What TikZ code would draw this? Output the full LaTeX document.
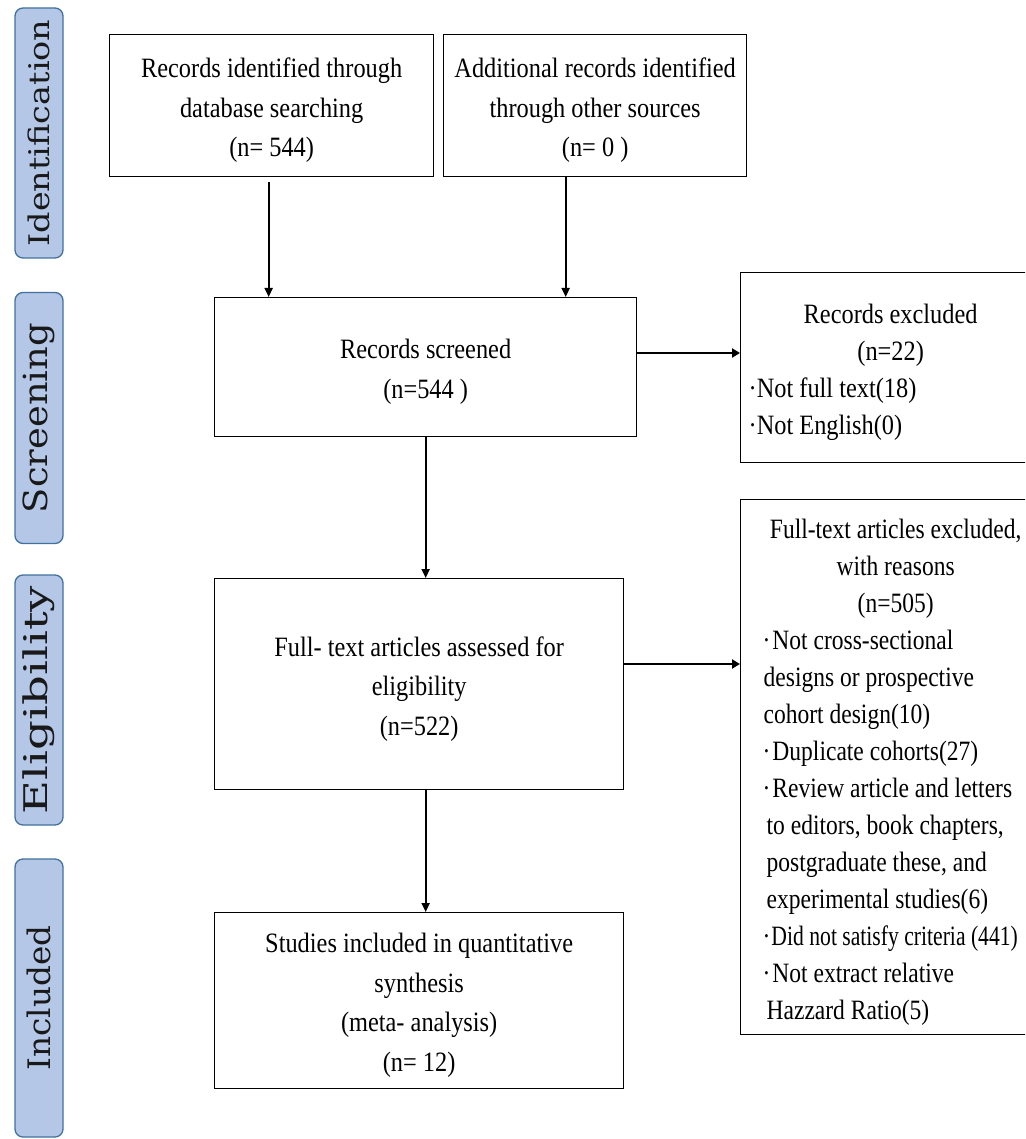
\documentclass[tikz,border=0pt]{standalone}
\usepackage{fontspec}
\usetikzlibrary{arrows.meta,calc}
\newfontfamily\boxfont[FakeStretch=0.87]{Liberation Serif}
\newfontfamily\boxfontn[FakeStretch=0.84]{Liberation Serif}
\newfontfamily\sidefont{DejaVu Serif}
\definecolor{sidefill}{HTML}{B4C7E7}
\definecolor{sidedraw}{HTML}{41719C}
\newcommand{\toppad}{\rule{0pt}{29pt}}
\begin{document}
\begin{tikzpicture}[x=1pt,y=-1pt,
  side/.style={draw=sidedraw, fill=sidefill, line width=1.3pt, rounded corners=8pt, inner sep=0pt, minimum height=48pt, rotate=90, text=black!90, font=\sidefont},
  box/.style={draw=black, line width=1.3pt, inner sep=0pt, anchor=north west, align=center, font=\boxfont\fontsize{28}{39.5}\selectfont},
  xbox/.style={draw=black, line width=1.3pt, inner ysep=0pt, anchor=north west, align=left, font=\boxfont\fontsize{28}{37}\selectfont},
  varr/.style={line width=1.9pt, -{Triangle[length=9pt,width=8pt]}},
  harr/.style={line width=2.6pt, -{Triangle[length=8pt,width=9pt]}}
]
\useasboundingbox (0,0) rectangle (1025,1139);
\clip (0,0) rectangle (1025,1139);

% side labels
\node[side, minimum width=250pt] (ident) at (39,133) {\resizebox*{227pt}{22pt}{Identification}};
\node[side, minimum width=251pt] (screen) at (39,418) {\resizebox*{190pt}{32pt}{Screening}};
\node[side, minimum width=250pt] (elig) at (39,700) {\resizebox*{228pt}{32pt}{Eligibility}};
\node[side, minimum width=278pt] (incl) at (39,998) {\resizebox*{145pt}{24pt}{Included}};

% main boxes
\node[box, minimum width=324pt, minimum height=142pt] (rec) at (109,34)
  {\toppad Records identified through\\database searching\\(n= 544)};
\node[box, minimum width=303pt, minimum height=142pt] (add) at (443,34)
  {\toppad Additional records identified\\through other sources\\(n= 0 )};
\node[box, minimum width=422pt, minimum height=139pt] (screened) at (214,297)
  {\toppad Records screened\\(n=544 )};
\node[box, minimum width=409pt, minimum height=211pt] (assessed) at (214,578)
  {\toppad Full- text articles assessed for\\eligibility\\(n=522)};
\node[box, minimum width=409pt, minimum height=176pt] (studies) at (214,912)
  {\toppad Studies included in quantitative\\synthesis\\(meta- analysis)\\(n= 12)};

% exclusion boxes
\node[xbox, inner xsep=8pt, minimum height=190pt] (excl1) at (740,272)
  {\makebox[284pt]{\toppad Records excluded}\\
   \makebox[284pt]{(n=22)}\\
   ·Not full text(18)\\
   ·Not English(0)};
\node[xbox, font=\boxfontn\fontsize{28}{37}\selectfont, inner xsep=22pt, minimum height=535pt] (excl2) at (740,499)
  {\makebox[266pt]{\toppad Full-text articles excluded,}\\
   \makebox[266pt]{with reasons}\\
   \makebox[266pt]{(n=505)}\\
   ·\hspace{2pt}Not cross-sectional\\
   \hspace*{1pt}designs or prospective\\
   \hspace*{1pt}cohort design(10)\\
   ·\hspace{2pt}Duplicate cohorts(27)\\
   ·\hspace{2pt}Review article and letters\\
   \hspace*{4pt}to editors, book chapters,\\
   \hspace*{4pt}postgraduate these, and\\
   \hspace*{4pt}experimental studies(6)\\
   ·\hspace{1pt}\scalebox{0.92}[1]{Did not satisfy criteria (441)}\\
   ·\hspace{2pt}Not extract relative\\
   \hspace*{4pt}Hazzard Ratio(5)};

% connectors
\coordinate (a1) at ($(rec.south)+(-3,0)$);
\coordinate (a2) at ($(add.south)+(-29.5,0)$);
\draw[varr, shorten <=5pt] (a1) -- (a1 |- screened.north);
\draw[varr] (a2) -- (a2 |- screened.north);
\draw[varr] (screened.south) -- (screened.south |- assessed.north);
\draw[varr] (screened.south |- assessed.south) -- (screened.south |- studies.north);
\coordinate (h1) at ($(screened.north east)+(0,56)$);
\coordinate (h2) at ($(assessed.north east)+(0,86)$);
\draw[harr] (h1) -- (h1 -| excl1.west);
\draw[harr] (h2) -- (h2 -| excl2.west);
\end{tikzpicture}
\end{document}
